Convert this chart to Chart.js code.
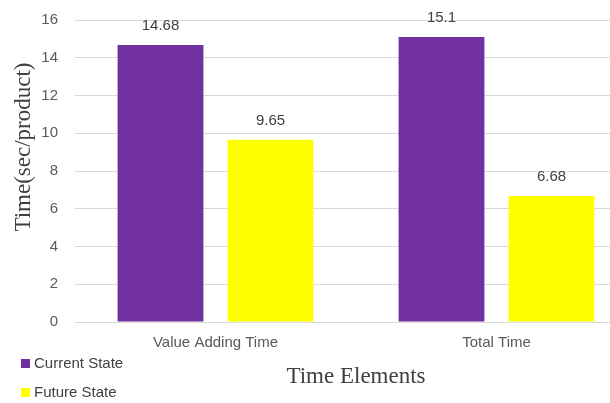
<!DOCTYPE html>
<html>
<head>
<meta charset="utf-8">
<script src="https://cdn.jsdelivr.net/npm/chart.js@4/dist/chart.umd.min.js"></script>
<style>
  html, body { margin: 0; padding: 0; background: #fff; overflow: hidden; width: 610px; height: 403px; }
  #wrap { position: absolute; left: 0; top: 0; width: 640px; height: 403px; }
  #legend { position: absolute; left: 21px; top: 354px; font-family: "Liberation Sans", Arial, sans-serif; font-size: 15px; color: #404040; }
  .item { position: absolute; left: 0; white-space: nowrap; height: 18px; line-height: 18px; }
  .box { display: inline-block; width: 9px; height: 9px; margin-right: 4px; vertical-align: 0px; }
</style>
</head>
<body>
<div id="wrap">
  <canvas id="chart" width="640" height="403"></canvas>
  <div id="legend"></div>
</div>
<script>
// Chart data
const categories = ["Value Adding Time", "Total Time"];
const seriesNames = ["Current State", "Future State"];
const currentState = [14.68, 15.1];
const futureState = [9.65, 6.68];
const yTicks = [0, 2, 4, 6, 8, 10, 12, 14, 16];

const colors = ["#7030A0", "#FFFF00"];
const textColor = "#595959";
const sansFont = "'Liberation Sans', Arial, sans-serif";
const serifFont = "'Liberation Serif', 'Times New Roman', serif";

// Value labels above each bar, placed from the bar elements themselves
const valueLabels = {
  id: "valueLabels",
  afterDatasetsDraw(chart) {
    const ctx = chart.ctx;
    ctx.save();
    ctx.font = "15px " + sansFont;
    ctx.fillStyle = "#404040";
    ctx.textAlign = "center";
    ctx.textBaseline = "middle";
    chart.data.datasets.forEach((ds, i) => {
      chart.getDatasetMeta(i).data.forEach((bar, j) => {
        ctx.fillText(String(ds.data[j]), bar.x, bar.y - 19);
      });
    });
    ctx.restore();
  }
};

// Vertical axis title
const yTitle = {
  id: "yTitle",
  afterDraw(chart) {
    const ctx = chart.ctx;
    ctx.save();
    ctx.translate(24, 147);
    ctx.rotate(-Math.PI / 2);
    ctx.font = "23px " + serifFont;
    ctx.fillStyle = "#404040";
    ctx.textAlign = "center";
    ctx.textBaseline = "middle";
    ctx.fillText("Time(sec/product)", 0, 0);
    ctx.restore();
  }
};

const chart = new Chart(document.getElementById("chart"), {
  type: "bar",
  data: {
    labels: categories,
    datasets: [
      { label: seriesNames[0], data: currentState, backgroundColor: colors[0] },
      { label: seriesNames[1], data: futureState, backgroundColor: colors[1] }
    ]
  },
  options: {
    responsive: false,
    animation: false,
    categoryPercentage: 0.783,
    barPercentage: 0.78,
    layout: { padding: { top: 20, right: 3, left: 0, bottom: 0 } },
    plugins: {
      legend: { display: false },
      tooltip: { enabled: false }
    },
    scales: {
      x: {
        afterFit(scale) { scale.height = 81; },
        grid: { display: false, drawTicks: false },
        border: { display: false },
        ticks: {
          color: textColor,
          font: { family: sansFont, size: 15 },
          padding: 12,
          maxRotation: 0
        },
        title: {
          display: true,
          text: "Time Elements",
          color: "#404040",
          font: { family: serifFont, size: 23 },
          padding: { top: 0, bottom: 12 }
        }
      },
      y: {
        min: 0,
        max: 16,
        afterBuildTicks(scale) { scale.ticks = yTicks.map(v => ({ value: v })); },
        afterFit(scale) {
          scale.width = 75;
          scale.paddingTop = 0;
          scale.paddingBottom = 0;
        },
        grid: { color: "#d9d9d9", drawTicks: false },
        border: { display: false },
        ticks: {
          color: textColor,
          font: { family: sansFont, size: 15 },
          padding: 17
        }
      }
    }
  },
  plugins: [valueLabels, yTitle]
});

// Legend entries listed one per row
const legend = document.getElementById("legend");
seriesNames.forEach((name, i) => {
  const row = document.createElement("div");
  row.className = "item";
  row.style.top = (i * 29) + "px";
  const box = document.createElement("span");
  box.className = "box";
  box.style.background = colors[i];
  row.appendChild(box);
  row.appendChild(document.createTextNode(name));
  legend.appendChild(row);
});
</script>
</body>
</html>
